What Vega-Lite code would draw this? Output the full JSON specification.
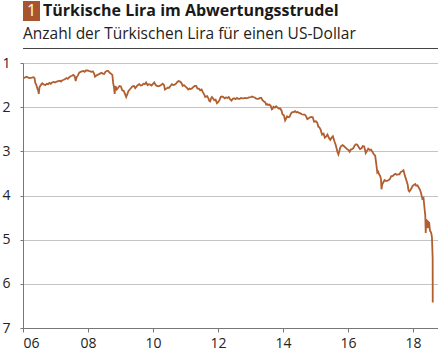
{
"$schema": "https://vega.github.io/schema/vega-lite/v6.json",
"padding": {"top": 1, "left": 0, "right": 0, "bottom": 0},
"background": "white",
"config": {"view": {"stroke": null}, "font": "Open Sans"},
"bounds": "full",
"spacing": 7,
"vconcat": [
 {"spacing": 0, "bounds": "full", "vconcat": [
  {"spacing": 3, "bounds": "full", "hconcat": [
   {"width": 17, "height": 20, "view": {"fill": "#a8552e", "stroke": null},
    "data": {"values": [{"t": "1"}]},
    "mark": {"type": "text", "color": "white", "fontSize": 16, "font": "Open Sans"},
    "encoding": {"text": {"field": "t"}}},
   {"width": 418, "height": 20,
    "data": {"values": [{"t": "Türkische Lira im Abwertungsstrudel"}]},
    "mark": {"type": "text", "align": "left", "fontSize": 16, "fontWeight": "bold", "color": "#1a1a1a", "font": "Open Sans"},
    "encoding": {"text": {"field": "t"}, "x": {"value": 0}}}
  ]},
  {"width": 438, "height": 27,
   "data": {"values": [{"t": "Anzahl der Türkischen Lira für einen US-Dollar"}]},
   "mark": {"type": "text", "align": "left", "fontSize": 15.5, "color": "#222", "font": "Open Sans", "dy": -1},
   "encoding": {"text": {"field": "t"}, "x": {"value": 0}}},
  {"width": 438, "height": 1,
   "data": {"values": [{"t": ""}]},
   "mark": {"type": "rect", "color": "#444"},
   "encoding": {}}
 ]},
 {"width": 415, "height": 265,
  "data": {"values": [
{"d":"2006-01-02","v":1.34},{"d":"2006-01-20","v":1.33},{"d":"2006-02-10","v":1.31},{"d":"2006-03-01","v":1.33},{"d":"2006-03-20","v":1.34},{"d":"2006-04-10","v":1.33},{"d":"2006-04-28","v":1.32},{"d":"2006-05-10","v":1.34},{"d":"2006-05-20","v":1.45},{"d":"2006-05-31","v":1.50},{"d":"2006-06-12","v":1.58},{"d":"2006-06-20","v":1.62},{"d":"2006-06-27","v":1.70},{"d":"2006-07-05","v":1.55},{"d":"2006-07-20","v":1.50},{"d":"2006-08-05","v":1.46},{"d":"2006-08-25","v":1.49},{"d":"2006-09-10","v":1.50},{"d":"2006-09-25","v":1.47},{"d":"2006-10-10","v":1.48},{"d":"2006-10-25","v":1.45},{"d":"2006-11-10","v":1.47},{"d":"2006-11-25","v":1.44},{"d":"2006-12-10","v":1.43},{"d":"2006-12-28","v":1.44},
{"d":"2007-01-15","v":1.42},{"d":"2007-02-01","v":1.41},{"d":"2007-02-20","v":1.40},{"d":"2007-03-05","v":1.42},{"d":"2007-03-20","v":1.39},{"d":"2007-04-05","v":1.38},{"d":"2007-04-20","v":1.36},{"d":"2007-05-05","v":1.34},{"d":"2007-05-20","v":1.36},{"d":"2007-06-05","v":1.32},{"d":"2007-06-20","v":1.30},{"d":"2007-07-05","v":1.29},{"d":"2007-07-20","v":1.27},{"d":"2007-08-05","v":1.30},{"d":"2007-08-16","v":1.41},{"d":"2007-08-25","v":1.33},{"d":"2007-09-10","v":1.28},{"d":"2007-09-25","v":1.22},{"d":"2007-10-10","v":1.20},{"d":"2007-10-25","v":1.19},{"d":"2007-11-10","v":1.18},{"d":"2007-11-25","v":1.20},{"d":"2007-12-10","v":1.17},{"d":"2007-12-28","v":1.17},
{"d":"2008-01-10","v":1.18},{"d":"2008-01-25","v":1.19},{"d":"2008-02-10","v":1.20},{"d":"2008-02-25","v":1.19},{"d":"2008-03-10","v":1.24},{"d":"2008-03-20","v":1.31},{"d":"2008-04-01","v":1.29},{"d":"2008-04-15","v":1.27},{"d":"2008-05-01","v":1.26},{"d":"2008-05-15","v":1.24},{"d":"2008-06-01","v":1.22},{"d":"2008-06-15","v":1.24},{"d":"2008-07-01","v":1.25},{"d":"2008-07-15","v":1.20},{"d":"2008-08-01","v":1.18},{"d":"2008-08-15","v":1.18},{"d":"2008-09-01","v":1.22},{"d":"2008-09-15","v":1.24},{"d":"2008-10-01","v":1.27},{"d":"2008-10-10","v":1.45},{"d":"2008-10-20","v":1.56},{"d":"2008-10-27","v":1.70},{"d":"2008-11-05","v":1.52},{"d":"2008-11-20","v":1.60},{"d":"2008-12-05","v":1.56},{"d":"2008-12-20","v":1.52},
{"d":"2009-01-05","v":1.53},{"d":"2009-01-20","v":1.62},{"d":"2009-02-05","v":1.63},{"d":"2009-02-20","v":1.70},{"d":"2009-03-05","v":1.77},{"d":"2009-03-15","v":1.72},{"d":"2009-04-01","v":1.63},{"d":"2009-04-15","v":1.60},{"d":"2009-05-01","v":1.56},{"d":"2009-05-15","v":1.53},{"d":"2009-06-01","v":1.52},{"d":"2009-06-15","v":1.57},{"d":"2009-07-01","v":1.53},{"d":"2009-07-15","v":1.50},{"d":"2009-08-01","v":1.48},{"d":"2009-08-15","v":1.51},{"d":"2009-09-01","v":1.50},{"d":"2009-09-15","v":1.47},{"d":"2009-10-01","v":1.48},{"d":"2009-10-15","v":1.44},{"d":"2009-11-01","v":1.50},{"d":"2009-11-15","v":1.48},{"d":"2009-12-01","v":1.49},{"d":"2009-12-15","v":1.51},
{"d":"2010-01-05","v":1.46},{"d":"2010-01-15","v":1.44},{"d":"2010-02-01","v":1.50},{"d":"2010-02-15","v":1.52},{"d":"2010-03-01","v":1.53},{"d":"2010-03-15","v":1.52},{"d":"2010-04-01","v":1.50},{"d":"2010-04-20","v":1.47},{"d":"2010-05-05","v":1.50},{"d":"2010-05-15","v":1.60},{"d":"2010-06-01","v":1.58},{"d":"2010-06-15","v":1.56},{"d":"2010-07-01","v":1.56},{"d":"2010-07-15","v":1.52},{"d":"2010-08-01","v":1.48},{"d":"2010-08-15","v":1.50},{"d":"2010-09-01","v":1.49},{"d":"2010-09-15","v":1.47},{"d":"2010-10-01","v":1.43},{"d":"2010-10-15","v":1.41},{"d":"2010-11-01","v":1.42},{"d":"2010-11-15","v":1.45},{"d":"2010-12-01","v":1.52},{"d":"2010-12-15","v":1.50},
{"d":"2011-01-05","v":1.54},{"d":"2011-01-20","v":1.57},{"d":"2011-02-01","v":1.60},{"d":"2011-02-15","v":1.58},{"d":"2011-03-01","v":1.59},{"d":"2011-03-15","v":1.57},{"d":"2011-04-01","v":1.54},{"d":"2011-04-15","v":1.52},{"d":"2011-05-01","v":1.52},{"d":"2011-05-15","v":1.58},{"d":"2011-06-01","v":1.58},{"d":"2011-06-15","v":1.62},{"d":"2011-07-01","v":1.60},{"d":"2011-07-15","v":1.66},{"d":"2011-08-01","v":1.72},{"d":"2011-08-10","v":1.77},{"d":"2011-08-20","v":1.76},{"d":"2011-09-01","v":1.75},{"d":"2011-09-15","v":1.80},{"d":"2011-09-25","v":1.86},{"d":"2011-10-05","v":1.87},{"d":"2011-10-15","v":1.80},{"d":"2011-10-25","v":1.77},{"d":"2011-11-05","v":1.80},{"d":"2011-11-20","v":1.84},{"d":"2011-12-05","v":1.83},{"d":"2011-12-20","v":1.91},
{"d":"2012-01-05","v":1.88},{"d":"2012-01-20","v":1.83},{"d":"2012-02-01","v":1.77},{"d":"2012-02-15","v":1.76},{"d":"2012-03-01","v":1.77},{"d":"2012-03-15","v":1.80},{"d":"2012-04-01","v":1.78},{"d":"2012-04-15","v":1.79},{"d":"2012-05-01","v":1.77},{"d":"2012-05-15","v":1.82},{"d":"2012-06-01","v":1.85},{"d":"2012-06-15","v":1.81},{"d":"2012-07-01","v":1.80},{"d":"2012-07-15","v":1.82},{"d":"2012-08-01","v":1.79},{"d":"2012-08-15","v":1.81},{"d":"2012-09-01","v":1.81},{"d":"2012-09-15","v":1.79},{"d":"2012-10-01","v":1.80},{"d":"2012-10-15","v":1.80},{"d":"2012-11-01","v":1.79},{"d":"2012-11-15","v":1.80},{"d":"2012-12-01","v":1.79},{"d":"2012-12-15","v":1.78},
{"d":"2013-01-05","v":1.77},{"d":"2013-01-15","v":1.76},{"d":"2013-02-01","v":1.77},{"d":"2013-02-15","v":1.78},{"d":"2013-03-01","v":1.80},{"d":"2013-03-15","v":1.81},{"d":"2013-04-01","v":1.81},{"d":"2013-04-15","v":1.79},{"d":"2013-05-01","v":1.79},{"d":"2013-05-15","v":1.84},{"d":"2013-06-01","v":1.87},{"d":"2013-06-15","v":1.89},{"d":"2013-06-25","v":1.94},{"d":"2013-07-05","v":1.93},{"d":"2013-07-15","v":1.95},{"d":"2013-08-01","v":1.94},{"d":"2013-08-15","v":1.97},{"d":"2013-08-28","v":2.05},{"d":"2013-09-05","v":2.04},{"d":"2013-09-15","v":1.99},{"d":"2013-10-01","v":2.01},{"d":"2013-10-15","v":1.98},{"d":"2013-11-01","v":2.01},{"d":"2013-11-15","v":2.03},{"d":"2013-12-01","v":2.03},{"d":"2013-12-15","v":2.08},{"d":"2013-12-27","v":2.17},
{"d":"2014-01-10","v":2.18},{"d":"2014-01-24","v":2.30},{"d":"2014-02-01","v":2.27},{"d":"2014-02-15","v":2.21},{"d":"2014-03-01","v":2.23},{"d":"2014-03-15","v":2.22},{"d":"2014-04-01","v":2.14},{"d":"2014-04-15","v":2.11},{"d":"2014-05-01","v":2.11},{"d":"2014-05-15","v":2.09},{"d":"2014-06-01","v":2.12},{"d":"2014-06-15","v":2.11},{"d":"2014-07-01","v":2.13},{"d":"2014-07-15","v":2.14},{"d":"2014-08-01","v":2.16},{"d":"2014-08-15","v":2.17},{"d":"2014-09-01","v":2.17},{"d":"2014-09-15","v":2.20},{"d":"2014-10-01","v":2.27},{"d":"2014-10-15","v":2.25},{"d":"2014-11-01","v":2.23},{"d":"2014-11-15","v":2.22},{"d":"2014-12-01","v":2.23},{"d":"2014-12-15","v":2.33},
{"d":"2015-01-05","v":2.32},{"d":"2015-01-20","v":2.35},{"d":"2015-02-01","v":2.44},{"d":"2015-02-15","v":2.46},{"d":"2015-03-01","v":2.52},{"d":"2015-03-15","v":2.62},{"d":"2015-04-01","v":2.60},{"d":"2015-04-15","v":2.69},{"d":"2015-05-01","v":2.66},{"d":"2015-05-15","v":2.62},{"d":"2015-06-01","v":2.70},{"d":"2015-06-15","v":2.74},{"d":"2015-07-01","v":2.69},{"d":"2015-07-15","v":2.66},{"d":"2015-08-01","v":2.77},{"d":"2015-08-15","v":2.85},{"d":"2015-08-25","v":2.93},{"d":"2015-09-05","v":3.02},{"d":"2015-09-15","v":3.07},{"d":"2015-09-25","v":3.00},{"d":"2015-10-05","v":2.92},{"d":"2015-10-15","v":2.88},{"d":"2015-11-01","v":2.86},{"d":"2015-11-15","v":2.88},{"d":"2015-12-01","v":2.91},{"d":"2015-12-15","v":2.94},
{"d":"2016-01-05","v":2.97},{"d":"2016-01-20","v":3.01},{"d":"2016-02-01","v":2.96},{"d":"2016-02-15","v":2.95},{"d":"2016-03-01","v":2.93},{"d":"2016-03-15","v":2.87},{"d":"2016-04-01","v":2.84},{"d":"2016-04-15","v":2.85},{"d":"2016-05-01","v":2.91},{"d":"2016-05-15","v":2.95},{"d":"2016-06-01","v":2.93},{"d":"2016-06-15","v":2.88},{"d":"2016-07-01","v":2.89},{"d":"2016-07-18","v":3.04},{"d":"2016-08-01","v":2.99},{"d":"2016-08-15","v":2.94},{"d":"2016-09-01","v":2.97},{"d":"2016-09-15","v":2.96},{"d":"2016-10-01","v":3.01},{"d":"2016-10-15","v":3.06},{"d":"2016-11-01","v":3.10},{"d":"2016-11-15","v":3.31},{"d":"2016-11-25","v":3.48},{"d":"2016-12-05","v":3.46},{"d":"2016-12-15","v":3.52},{"d":"2016-12-28","v":3.56},
{"d":"2017-01-05","v":3.63},{"d":"2017-01-11","v":3.86},{"d":"2017-01-20","v":3.75},{"d":"2017-02-01","v":3.70},{"d":"2017-02-15","v":3.65},{"d":"2017-03-01","v":3.67},{"d":"2017-03-15","v":3.67},{"d":"2017-04-01","v":3.65},{"d":"2017-04-15","v":3.63},{"d":"2017-05-01","v":3.56},{"d":"2017-05-15","v":3.56},{"d":"2017-06-01","v":3.53},{"d":"2017-06-15","v":3.51},{"d":"2017-07-01","v":3.53},{"d":"2017-07-15","v":3.52},{"d":"2017-08-01","v":3.52},{"d":"2017-08-15","v":3.47},{"d":"2017-09-01","v":3.45},{"d":"2017-09-15","v":3.43},{"d":"2017-10-01","v":3.55},{"d":"2017-10-15","v":3.64},{"d":"2017-11-01","v":3.75},{"d":"2017-11-10","v":3.88},{"d":"2017-11-20","v":3.91},{"d":"2017-12-01","v":3.88},{"d":"2017-12-15","v":3.83},{"d":"2017-12-28","v":3.78},
{"d":"2018-01-10","v":3.76},{"d":"2018-01-25","v":3.74},{"d":"2018-02-05","v":3.78},{"d":"2018-02-20","v":3.77},{"d":"2018-03-05","v":3.82},{"d":"2018-03-20","v":3.87},{"d":"2018-04-01","v":3.95},{"d":"2018-04-15","v":4.07},{"d":"2018-04-28","v":4.05},{"d":"2018-05-10","v":4.30},{"d":"2018-05-18","v":4.45},{"d":"2018-05-23","v":4.85},{"d":"2018-05-28","v":4.55},{"d":"2018-06-05","v":4.57},{"d":"2018-06-15","v":4.74},{"d":"2018-06-22","v":4.60},{"d":"2018-07-01","v":4.62},{"d":"2018-07-10","v":4.80},{"d":"2018-07-18","v":4.82},{"d":"2018-07-25","v":4.86},{"d":"2018-08-01","v":4.95},{"d":"2018-08-07","v":5.30},{"d":"2018-08-09","v":5.42},{"d":"2018-08-10","v":6.42}
  ]},
  "mark": {"type": "line", "color": "#b05f30", "strokeWidth": 1.8},
  "encoding": {
   "x": {"field": "d", "type": "temporal",
    "scale": {"type": "utc", "domain": [{"year": 2006, "month": 1, "date": 1, "utc": true}, {"year": 2018, "month": 10, "date": 8, "utc": true}]},
    "axis": {"values": [{"year": 2006, "month": 1, "date": 1, "utc": true}, {"year": 2008, "month": 1, "date": 1, "utc": true}, {"year": 2010, "month": 1, "date": 1, "utc": true}, {"year": 2012, "month": 1, "date": 1, "utc": true}, {"year": 2014, "month": 1, "date": 1, "utc": true}, {"year": 2016, "month": 1, "date": 1, "utc": true}, {"year": 2018, "month": 1, "date": 1, "utc": true}],
     "format": "%y", "grid": false, "title": null, "domainColor": "#777", "tickColor": "#777", "tickSize": 4, "labelFontSize": 14, "labelColor": "#222", "labelPadding": 4, "labelFont": "Open Sans"}},
   "y": {"field": "v", "type": "quantitative",
    "scale": {"domain": [1, 7], "reverse": true, "nice": false, "zero": false},
    "axis": {"values": [1, 2, 3, 4, 5, 6, 7], "title": null, "gridColor": "#c4c4c4", "domainColor": "#777", "tickColor": "#777", "tickSize": 3, "labelFontSize": 14, "labelColor": "#222", "labelPadding": 10, "minExtent": 23, "maxExtent": 23, "labelFont": "Open Sans"}}
  }
 }
]
}
